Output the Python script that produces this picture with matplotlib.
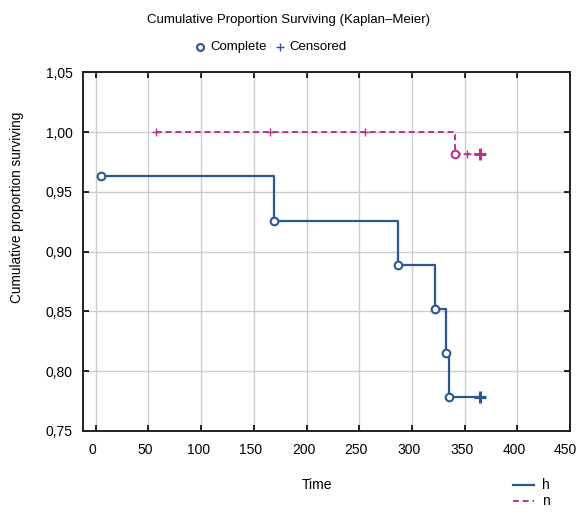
import numpy as np
import matplotlib.pyplot as plt
import matplotlib.transforms as mtransforms
from matplotlib.lines import Line2D
from matplotlib.ticker import FuncFormatter

plt.rcParams['font.family'] = ['Liberation Sans', 'DejaVu Sans']

# group h: complete (event) times and survival after each event
h_event_t = [5, 169, 287, 322, 332, 335]
h_event_s = [0.963, 0.926, 0.889, 0.852, 0.815, 0.778]
h_cens_t = [365]

# group n
n_start_t = 57
n_event_t = [341]
n_event_s = [0.982]
n_cens_t = [57, 165, 255, 352, 365]

blue = '#2b5797'
pink = '#b8338f'
W, H = 577, 521

fig = plt.figure(figsize=(5.77, 5.21), dpi=100)
ax = fig.add_axes([0.143, 0.173, 0.845, 0.688])

# h step curve
ht = h_event_t + h_cens_t
hs = h_event_s + [h_event_s[-1]]
ax.step(ht, hs, where='post', color=blue, lw=1.6, zorder=3)
ax.plot(h_event_t, h_event_s, 'o', ms=5.5, mfc='white', mec=blue, mew=1.5, zorder=4)
ax.plot(h_cens_t, [h_event_s[-1]], '+', ms=8, mec=blue, mew=2.2, zorder=4)

# n step curve
nt = [n_start_t] + n_event_t + [n_cens_t[-1]]
ns = [1.0] + n_event_s + [n_event_s[-1]]
ax.step(nt, ns, where='post', color=pink, lw=1.4, ls=(0, (3, 2)), zorder=3)
ax.plot(n_event_t, n_event_s, 'o', ms=5.5, mfc='white', mec=pink, mew=1.5, zorder=4)
n_cens_s = [1.0 if t < n_event_t[0] else n_event_s[0] for t in n_cens_t]
ax.plot(n_cens_t[:-1], n_cens_s[:-1], '+', ms=6, mec=pink, mew=1.0, zorder=4)
ax.plot(n_cens_t[-1:], n_cens_s[-1:], '+', ms=8, mec=pink, mew=2.2, zorder=4)

ax.set_xlim(-12.5, 450)
ax.set_ylim(0.75, 1.05)
ax.set_xticks(np.arange(0, 451, 50))
ax.set_yticks(np.arange(0.75, 1.051, 0.05))
ax.yaxis.set_major_formatter(FuncFormatter(lambda v, p: f'{v:.2f}'.replace('.', ',')))
ax.grid(True, color='#cccccc', lw=1)
ax.set_axisbelow(True)
ax.tick_params(direction='in', length=4, width=1.2, top=True, right=True,
               labelsize=10, colors='black')
ax.tick_params(axis='x', pad=9)
ax.tick_params(axis='y', pad=7)
for sp in ax.spines.values():
    sp.set_linewidth(1.4)
    sp.set_color('#222222')

# shift x tick labels a little to the left, as in the reference
labels = ax.get_xticklabels()
for i, lab in enumerate(labels):
    dx = -5 if i == len(labels) - 1 else -3
    shift = mtransforms.ScaledTranslation(dx / 100, 0, fig.dpi_scale_trans)
    lab.set_transform(lab.get_transform() + shift)

fig.text(317.5 / W, 1 - 485 / H, 'Time', ha='center', va='center', fontsize=10)
fig.text(17.5 / W, 1 - 207 / H, 'Cumulative proportion surviving', rotation=90,
         ha='center', va='center', fontsize=9.8)

fig.text(0.5, 1 - 20 / H, 'Cumulative Proportion Surviving (Kaplan\u2013Meier)',
         ha='center', va='center', fontsize=9.5)
ly = 1 - 47 / H
fig.add_artist(Line2D([200 / W], [ly], marker='o', ms=5, mfc='white', mec=blue,
                      mew=1.5, transform=fig.transFigure))
fig.text(210 / W, ly, 'Complete', ha='left', va='center', fontsize=9.5)
fig.add_artist(Line2D([280 / W], [ly], marker='+', ms=6, mec=blue,
                      mew=1.0, transform=fig.transFigure))
fig.text(289 / W, ly, 'Censored', ha='left', va='center', fontsize=9.5)

# bottom-right legend
for y, col, ls, lw, name in [(485, blue, '-', 1.6, 'h'), (501, pink, (0, (3, 2)), 1.4, 'n')]:
    fig.add_artist(Line2D([513 / W, 534 / W], [1 - y / H] * 2, color=col, ls=ls,
                          lw=lw, transform=fig.transFigure))
    fig.text(542 / W, 1 - y / H, name, ha='left', va='center', fontsize=10)

fig.savefig('out.png', dpi=100)
